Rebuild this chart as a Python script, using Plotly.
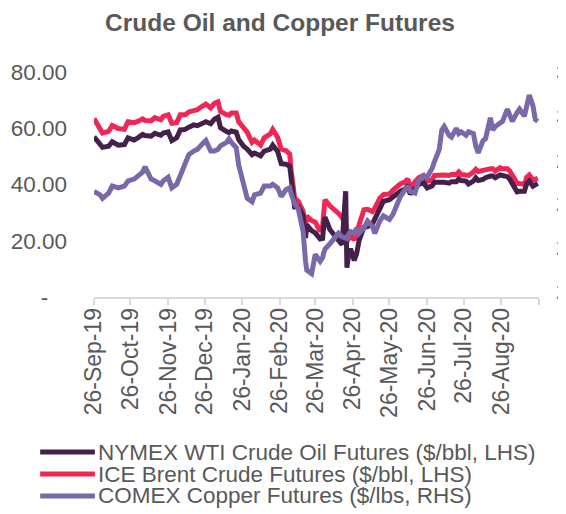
import plotly.graph_objects as go

dates = ["2019-09-26","2019-10-01","2019-10-03","2019-10-08","2019-10-11","2019-10-16","2019-10-21","2019-10-24","2019-10-29",
         "2019-11-01","2019-11-05","2019-11-07","2019-11-12","2019-11-15","2019-11-20","2019-11-22","2019-11-26","2019-11-29",
         "2019-12-03","2019-12-06","2019-12-10","2019-12-13","2019-12-17","2019-12-20","2019-12-24","2019-12-27","2019-12-31",
         "2020-01-03","2020-01-06","2020-01-08","2020-01-13","2020-01-15","2020-01-17","2020-01-21","2020-01-23","2020-01-27","2020-01-30",
         "2020-02-03","2020-02-05","2020-02-10","2020-02-13","2020-02-18","2020-02-20","2020-02-24","2020-02-27",
         "2020-03-02","2020-03-05","2020-03-06","2020-03-09","2020-03-12","2020-03-16","2020-03-18","2020-03-19","2020-03-23","2020-03-26","2020-03-30",
         "2020-04-01","2020-04-02","2020-04-03","2020-04-07","2020-04-09","2020-04-14","2020-04-17","2020-04-20","2020-04-21","2020-04-22","2020-04-24","2020-04-27","2020-04-29",
         "2020-05-01","2020-05-05","2020-05-08","2020-05-12","2020-05-14","2020-05-18","2020-05-21","2020-05-26","2020-05-29",
         "2020-06-02","2020-06-04","2020-06-08","2020-06-10","2020-06-12","2020-06-16","2020-06-19","2020-06-23","2020-06-26","2020-06-30",
         "2020-07-02","2020-07-06","2020-07-08","2020-07-10","2020-07-14","2020-07-16","2020-07-20","2020-07-22","2020-07-24","2020-07-28","2020-07-30",
         "2020-08-03","2020-08-05","2020-08-07","2020-08-11","2020-08-13","2020-08-17","2020-08-19","2020-08-21","2020-08-25","2020-08-27","2020-08-31",
         "2020-09-02","2020-09-04","2020-09-08","2020-09-10","2020-09-14","2020-09-16","2020-09-18","2020-09-21","2020-09-23","2020-09-25"]

wti = [57.0,54.0,53.2,53.6,55.2,54.0,54.2,56.6,55.8,
       56.6,57.8,57.4,57.2,58.2,57.5,58.3,58.7,55.6,
       56.6,59.4,59.6,60.4,61.2,60.9,61.7,62.3,61.6,
       63.2,63.9,60.2,58.8,58.4,59.0,58.6,56.0,53.6,52.6,
       50.6,51.2,50.2,51.9,52.6,54.0,51.8,47.4,
       47.2,46.5,41.8,32.0,32.0,28.9,21.0,25.6,23.6,22.8,20.6,
       20.8,25.5,28.4,24.0,23.0,20.5,18.6,37.6,10.4,13.8,17.2,13.0,15.4,
       20.0,24.8,25.0,26.0,27.8,31.8,34.0,34.6,35.6,
       37.0,37.6,38.4,39.8,36.6,38.6,40.0,40.6,38.8,39.5,
       40.8,40.8,41.0,40.8,40.5,41.0,41.0,42.0,41.4,41.2,40.2,
       41.2,42.4,41.4,41.8,42.4,43.0,43.0,42.4,43.4,43.2,42.8,
       41.8,40.0,37.4,37.6,37.6,40.4,41.2,39.4,40.0,40.4]

brent = [63.5,59.5,58.3,58.9,61.0,59.9,59.6,62.3,62.0,
         62.4,63.3,62.8,62.6,63.8,63.0,64.2,64.8,61.8,
         62.0,64.8,64.8,65.8,66.5,66.6,67.8,68.6,67.2,
         68.9,69.4,66.0,64.8,64.6,65.4,65.4,62.3,59.8,58.6,
         55.0,55.8,54.0,56.6,58.0,59.6,56.8,52.6,
         52.0,50.8,45.6,35.2,34.0,30.5,25.4,28.8,27.2,26.6,23.4,
         25.0,30.2,34.6,32.4,31.8,29.8,28.3,26.0,19.8,20.6,21.8,20.3,22.8,
         26.6,31.0,31.2,30.4,31.6,35.0,36.4,36.6,38.0,
         39.8,40.2,41.0,42.0,39.0,41.2,42.4,43.2,41.2,41.6,
         43.2,43.3,43.5,43.4,43.2,43.6,43.6,44.5,43.6,43.6,43.2,
         44.4,45.4,44.6,44.8,45.2,45.6,45.6,44.8,46.0,45.6,45.6,
         44.8,43.0,40.4,40.4,40.0,42.6,43.4,41.6,42.0,42.2]

copper = [2.57,2.55,2.53,2.56,2.60,2.59,2.60,2.63,2.64,
          2.66,2.68,2.71,2.64,2.63,2.61,2.63,2.65,2.59,
          2.61,2.66,2.73,2.78,2.80,2.81,2.84,2.86,2.80,
          2.80,2.81,2.83,2.85,2.87,2.85,2.82,2.72,2.60,2.53,
          2.51,2.55,2.56,2.60,2.60,2.61,2.59,2.54,
          2.58,2.59,2.56,2.50,2.47,2.34,2.17,2.12,2.10,2.21,2.17,
          2.19,2.22,2.24,2.27,2.29,2.33,2.31,2.30,2.30,2.32,2.34,2.33,2.36,
          2.33,2.36,2.40,2.37,2.33,2.40,2.43,2.41,2.44,
          2.50,2.54,2.58,2.60,2.57,2.56,2.63,2.66,2.65,2.70,
          2.74,2.81,2.92,2.94,2.89,2.88,2.93,2.90,2.91,2.89,2.91,
          2.90,2.83,2.79,2.86,2.87,2.99,2.92,2.94,2.96,2.97,3.04,
          3.01,2.97,3.02,3.04,3.00,3.07,3.12,3.06,2.98,2.97]

x_tick_dates = ["2019-09-26","2019-10-26","2019-11-26","2019-12-26","2020-01-26","2020-02-26",
                "2020-03-26","2020-04-26","2020-05-26","2020-06-26","2020-07-26","2020-08-26","2020-09-26"]
x_tick_text = ["26-Sep-19","26-Oct-19","26-Nov-19","26-Dec-19","26-Jan-20","26-Feb-20",
               "26-Mar-20","26-Apr-20","26-May-20","26-Jun-20","26-Jul-20","26-Aug-20",""]
y_left_ticks = [0, 20, 40, 60, 80]
y_left_text = ["-\u00a0\u00a0\u00a0", "20.00", "40.00", "60.00", "80.00"]
y_right_ticks = [2.00, 2.25, 2.50, 2.75, 3.00, 3.25]

names = ["NYMEX WTI Crude Oil Futures ($/bbl, LHS)",
         "ICE Brent Crude Futures ($/bbl, LHS)",
         "COMEX Copper Futures ($/lbs, RHS)"]
colors = ["#43214a", "#ef2757", "#7a68a8"]

FONT = "Liberation Sans, Arial, sans-serif"
GREY = "#595959"

# page has an 8px body margin, so the figure is 558x506 and sits at (8, 8)
W, H = 558, 506

fig = go.Figure()
fig.add_trace(go.Scatter(x=dates, y=copper, name=names[2], yaxis="y2", mode="lines",
                         line=dict(color=colors[2], width=5)))
fig.add_trace(go.Scatter(x=dates, y=brent, name=names[1], mode="lines",
                         line=dict(color=colors[1], width=5)))
fig.add_trace(go.Scatter(x=dates, y=wti, name=names[0], mode="lines",
                         line=dict(color=colors[0], width=5)))

# manual legend (compact line spacing as in the reference)
leg_y = [-0.689, -0.787, -0.884]
for i in range(3):
    fig.add_shape(type="line", xref="paper", yref="paper", x0=-0.121, x1=0.002, y0=leg_y[i], y1=leg_y[i],
                  line=dict(color=colors[i], width=5))
    fig.add_annotation(xref="paper", yref="paper", x=0.006, y=leg_y[i], text=names[i], showarrow=False,
                       xanchor="left", yanchor="middle", borderpad=0,
                       font=dict(family=FONT, size=22.5, color=GREY))

fig.update_layout(
    width=W, height=H,
    margin=dict(l=86, r=27, t=64, b=217, autoexpand=False),
    paper_bgcolor="white", plot_bgcolor="white",
    showlegend=False,
    font=dict(family=FONT, size=23, color=GREY),
    title=dict(text="<b>Crude Oil and Copper Futures</b>", x=272 / W, xanchor="center",
               y=1 - 14 / H, yanchor="middle", font=dict(family=FONT, size=24.5, color=GREY)),
    xaxis=dict(type="date", range=["2019-09-26", "2020-09-26"], tickmode="array", automargin=False,
               tickvals=x_tick_dates, ticktext=x_tick_text, tickangle=-90,
               showgrid=False, zeroline=False, showline=True, linecolor="#d9d9d9", linewidth=1.5,
               ticks="outside", ticklen=6, tickcolor="#d9d9d9", tickwidth=1.5,
               ticklabelstandoff=-6, tickfont=dict(family=FONT, size=23, color=GREY)),
    yaxis=dict(range=[0, 80], tickmode="array", tickvals=y_left_ticks, ticktext=y_left_text, automargin=False,
               showgrid=False, zeroline=False, showline=False, ticks="", ticklabeloverflow="allow",
               ticklabelstandoff=26, tickfont=dict(family=FONT, size=22.5, color=GREY)),
    yaxis2=dict(range=[1.966, 3.252], overlaying="y", side="right", tickmode="array", automargin=False,
                tickvals=y_right_ticks, tickformat=".2f", ticklabeloverflow="allow",
                showgrid=False, zeroline=False, showline=False, ticks="",
                ticklabelstandoff=16, tickfont=dict(family=FONT, size=22.5, color=GREY)),
)

fig.write_html("out.html")
